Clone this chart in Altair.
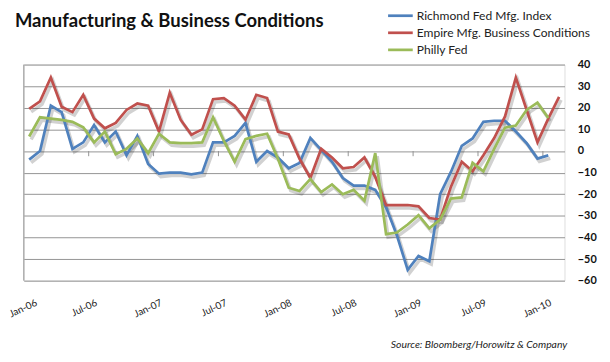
import altair as alt
import pandas as pd

months = list(pd.date_range("2006-01-01", periods=50, freq="MS").strftime("%b-%y"))
tick_labels = ["Jan-06", "Jul-06", "Jan-07", "Jul-07", "Jan-08", "Jul-08", "Jan-09", "Jul-09", "Jan-10"]
y_ticks = [-60, -50, -40, -30, -20, -10, 0, 10, 20, 30, 40]

series_names = ["Richmond Fed Mfg. Index", "Empire Mfg. Business Conditions", "Philly Fed"]
colors = ["#4F81BD", "#C0504D", "#9BBB59"]

richmond = [-4, 0, 21, 18, 1, 4, 12, 4, 9, -2,
            7, -6, -10.5, -10, -10, -10.8, -10, 4, 4, 7,
            13, -5, 0, -3, -8, -5.5, 6, 0.5, -5, -12.5,
            -16, -16, -18, -26, -39, -55, -48.6, -51, -20, -9.7,
            2.4, 5.8, 13.5, 14, 14, 9, 3.6, -3.5, -2]
empire = [19.5, 23, 34, 20.5, 18, 26, 15, 10.5, 13, 19,
          22, 21, 9, 27, 14.5, 7.5, 10, 24, 24.5, 21,
          14.5, 26, 24.5, 9, 7.7, -3.6, -12.5, 1, -3, -8,
          -7.4, -3, -12, -25, -25, -25, -25.6, -31, -31.7, -16.5,
          -5, -9.4, -2, 6, 16, 34, 19, 4, 15, 25]
philly = [6.7, 15.6, 15, 14.4, 13.5, 11, 4, 9, -1.5, 1,
          5.8, -1, 8, 4, 3.6, 3.6, 4, 15.6, 4.7, -5,
          5.5, 7, 8, -3.6, -17, -18.5, -13, -19, -15.5, -20,
          -18, -23, -1, -38.5, -37.7, -34, -29.7, -35.8, -31.7, -22,
          -21.5, -5.5, -9.4, 1, 10.8, 11.8, 19, 22.4, 15.3]

title_text = "Manufacturing & Business Conditions"
source_text = "Source: Bloomberg/Horowitz & Company"

rows = []
for name, vals in zip(series_names, [richmond, empire, philly]):
    for m, v in zip(months, vals):
        rows.append({"series": name, "month": m, "value": v, "order": series_names.index(name)})
df = pd.DataFrame(rows)

W, H = 548, 219
step = W / len(months)
FONT = "Lato"
GRID = "#939393"

xscale = alt.Scale(type="point", padding=0.5)
yscale = alt.Scale(domain=[-60, 40], nice=False, zero=False)

x_axis = alt.Axis(values=tick_labels, labelAngle=335, labelAlign="right",
                  labelBaseline="top", labelPadding=17, labelFont=FONT,
                  labelFontSize=10, labelColor="#222222", grid=False,
                  labelOffset=alt.condition("datum.value == 'Jan-06'", alt.value(5), alt.value(0)),
                  domain=False, ticks=False, title=None)
y_axis = alt.Axis(orient="right", values=y_ticks, grid=True, gridColor=GRID,
                  gridWidth=1, domain=False, ticks=False, labelAlign="left",
                  labelPadding=13, labelFont=FONT, labelFontWeight="bold",
                  labelFontSize=11, labelColor="#111111", title=None)


def xe():
    return alt.X("month:O", sort=months, scale=xscale, axis=x_axis)


def ye(field="value:Q"):
    return alt.Y(field, scale=yscale, axis=y_axis)


base = alt.Chart(df)

shadow = base.mark_line(strokeWidth=3.5, color="#000000", opacity=0.18,
                        xOffset=2, yOffset=3).encode(
    x=xe(), y=ye(), detail="series:N")

lines = base.mark_line(strokeWidth=2.75).encode(
    x=xe(), y=ye(),
    color=alt.Color("series:N",
                    scale=alt.Scale(domain=series_names, range=colors),
                    legend=alt.Legend(orient="none", legendX=371.7, legendY=-59.5, title=None,
                                      symbolType="M-1.47,0H1.47", symbolSize=289,
                                      symbolStrokeWidth=2.75, labelFont=FONT,
                                      labelFontSize=12.2, labelColor="#222222",
                                      labelLimit=0, rowPadding=0.3, labelOffset=6.6,
                                      padding=0)),
    order="order:Q",
)

tick_df = pd.DataFrame({"month": tick_labels[1:], "y0": [0] * 8, "y1": [-2.4] * 8})
xticks = alt.Chart(tick_df).mark_rule(color=GRID, strokeWidth=1, xOffset=-step / 2).encode(
    x=xe(), y=ye("y0:Q"), y2="y1:Q")

left_line = alt.Chart(pd.DataFrame({"a": [0]})).mark_rule(color=GRID, strokeWidth=1).encode(
    x=alt.value(0), y=alt.value(0), y2=alt.value(H))

title = alt.Chart(pd.DataFrame({"t": [title_text]})).mark_text(
    font=FONT, fontSize=18.7, fontWeight="bold", align="left", baseline="alphabetic",
    color="#111111").encode(text="t:N", x=alt.value(-9), y=alt.value(-38.5))

source = alt.Chart(pd.DataFrame({"t": [source_text]})).mark_text(
    font=FONT, fontSize=10.5, fontStyle="italic", align="left", baseline="alphabetic",
    color="#222222").encode(text="t:N", x=alt.value(372), y=alt.value(287))

chart = alt.layer(shadow, xticks, left_line, lines, title, source).properties(
    width=W, height=H,
    padding={"left": 16, "top": 55, "right": 38, "bottom": 72},
    autosize=alt.AutoSizeParams(type="none"),
).configure_view(stroke=None).configure(background="white")

chart.save("out.html", embed_options={"renderer": "svg", "actions": False})
